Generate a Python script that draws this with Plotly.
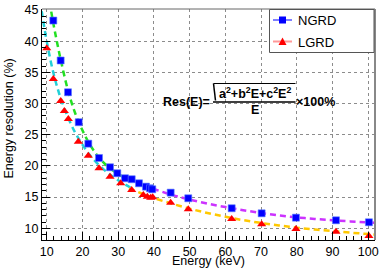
import plotly.graph_objects as go

# ---------------- data ----------------
NGRD_E = [11.85, 13.9, 15.96, 18.96, 21.64, 24.64, 27.72, 29.76, 31.91, 33.79, 35.83,
          37.79, 38.91, 39.55, 44.7, 49.63, 61.78, 70.17, 79.77, 90.97, 100.2]
NGRD_RES = [43.3, 36.9, 31.8, 27.0, 23.56, 21.27, 19.78, 18.82, 18.02, 17.86, 17.21,
            16.67, 16.41, 16.25, 15.71, 14.81, 13.21, 12.4, 11.7, 11.28, 10.96]

LGRD_E = [10.0, 11.85, 13.92, 14.93, 16.05, 18.84, 21.64, 24.64, 27.72, 30.71, 33.79,
          37.04, 38.16, 39.11, 39.67, 44.7, 49.63, 61.78, 70.17, 79.77, 90.97, 100.2]
LGRD_RES = [38.86, 33.94, 30.41, 28.81, 27.52, 23.88, 21.64, 19.62, 18.27, 17.21, 16.14,
            15.34, 15.07, 14.91, 14.97, 14.1, 13.05, 11.49, 10.64, 9.89, 9.46, 8.77]

# fitted curves
FIT_NGRD_LOW_E = [10.8, 11.0, 12, 13, 14, 16, 18, 20, 22, 24, 26, 28, 30, 32]
FIT_NGRD_LOW_RES = [46.3, 45.6, 42.4, 39.5, 36.8, 32.0, 28.4, 25.7, 23.5, 21.8, 20.5, 19.5, 18.7, 18.0]

FIT_LGRD_LOW_E = [8.6, 9.5, 10, 11, 12, 13, 14, 16, 18, 20, 22, 24, 26, 28, 30, 32, 33.5]
FIT_LGRD_LOW_RES = [44.8, 41.6, 40.0, 37.1, 34.6, 32.5, 30.7, 27.7, 25.3, 23.4, 21.8, 20.5,
                    19.4, 18.5, 17.7, 17.0, 16.5]

FIT_NGRD_HIGH_E = [32, 35, 38, 42, 46, 50, 55, 60, 65, 70, 75, 80, 85, 90, 95, 101.9]
FIT_NGRD_HIGH_RES = [18.2, 17.4, 16.7, 15.9, 15.2, 14.6, 13.95, 13.4, 12.9, 12.45, 12.05,
                     11.75, 11.5, 11.3, 11.1, 10.9]

FIT_LGRD_HIGH_E = [33, 36, 40, 45, 50, 55, 60, 65, 70, 75, 80, 85, 90, 95, 101.9]
FIT_LGRD_HIGH_RES = [16.4, 15.7, 14.85, 13.95, 13.15, 12.45, 11.85, 11.3, 10.85, 10.45,
                     10.1, 9.8, 9.55, 9.3, 9.0]

X_TICKS = [10, 20, 30, 40, 50, 60, 70, 80, 90, 100]
Y_TICKS = [10, 15, 20, 25, 30, 35, 40, 45]
SERIES_NAMES = ["NGRD", "LGRD"]

# ---------------- layout helpers ----------------
W, H = 382, 270
L, R, T, B = 42, 375, 9, 240
FONT = "Liberation Sans"


def px(x):
    return (x - L) / (R - L)


def py(y):
    return (B - y) / (B - T)


fig = go.Figure()

dash = "6px,4px"
fig.add_trace(go.Scatter(x=FIT_NGRD_LOW_E, y=FIT_NGRD_LOW_RES, mode="lines",
                         line=dict(color="#22e022", width=2.5, dash=dash, shape="spline"),
                         showlegend=False, hoverinfo="skip"))
fig.add_trace(go.Scatter(x=FIT_LGRD_LOW_E, y=FIT_LGRD_LOW_RES, mode="lines",
                         line=dict(color="#22d0d8", width=2.5, dash=dash, shape="spline"),
                         showlegend=False, hoverinfo="skip"))
fig.add_trace(go.Scatter(x=FIT_NGRD_HIGH_E, y=FIT_NGRD_HIGH_RES, mode="lines",
                         line=dict(color="#cc33ff", width=2.5, dash=dash, shape="spline"),
                         showlegend=False, hoverinfo="skip"))
fig.add_trace(go.Scatter(x=FIT_LGRD_HIGH_E, y=FIT_LGRD_HIGH_RES, mode="lines",
                         line=dict(color="#ffc800", width=2.5, dash=dash, shape="spline"),
                         showlegend=False, hoverinfo="skip"))

fig.add_trace(go.Scatter(x=NGRD_E, y=NGRD_RES, mode="markers", name=SERIES_NAMES[0],
                         marker=dict(symbol="square", color="#0000ff", size=7,
                                     line=dict(width=0.6, color="#5a7dff")),
                         showlegend=False))
fig.add_trace(go.Scatter(x=LGRD_E, y=LGRD_RES, mode="markers", name=SERIES_NAMES[1],
                         marker=dict(symbol="triangle-up", color="#ff0000", size=8,
                                     line=dict(width=0)),
                         showlegend=False))

shapes = []
annotations = []

# frame top / right (gray)
shapes.append(dict(type="line", xref="paper", yref="paper", x0=0, x1=1, y0=1, y1=1,
                   line=dict(color="#666666", width=1)))
shapes.append(dict(type="line", xref="paper", yref="paper", x0=1, x1=1, y0=0, y1=1,
                   line=dict(color="#888888", width=2)))

# legend box
shapes.append(dict(type="rect", xref="paper", yref="paper",
                   x0=px(269.5), x1=px(374), y0=py(52.5), y1=py(9.5),
                   line=dict(color="#555555", width=1), fillcolor="white"))
# NGRD legend entry
shapes.append(dict(type="line", xref="paper", yref="paper", x0=px(273), x1=px(292),
                   y0=py(20), y1=py(20), line=dict(color="#0000ff", width=1)))
shapes.append(dict(type="rect", xref="paper", yref="paper", x0=px(279), x1=px(286),
                   y0=py(23.5), y1=py(16.5), line=dict(width=0), fillcolor="#0000ff"))
# LGRD legend entry
shapes.append(dict(type="line", xref="paper", yref="paper", x0=px(273), x1=px(292),
                   y0=py(41.5), y1=py(41.5), line=dict(color="#ff9999", width=2)))
shapes.append(dict(type="path", xref="paper", yref="paper",
                   path="M {a} {b} L {c} {b} L {d} {e} Z".format(
                       a=px(278.5), b=py(45), c=px(286.5), d=px(282.5), e=py(37.5)),
                   line=dict(width=0), fillcolor="#ff0000"))
annotations.append(dict(xref="paper", yref="paper", x=px(296), y=py(20.5),
                        xanchor="left", yanchor="middle", showarrow=False,
                        text=SERIES_NAMES[0], font=dict(family=FONT, size=13, color="black")))
annotations.append(dict(xref="paper", yref="paper", x=px(296), y=py(42),
                        xanchor="left", yanchor="middle", showarrow=False,
                        text=SERIES_NAMES[1], font=dict(family=FONT, size=13, color="black")))

# formula
ff = dict(family=FONT, size=12.5, color="black")
annotations.append(dict(xref="paper", yref="paper", x=px(212.5), y=py(102),
                        xanchor="right", yanchor="middle", showarrow=False,
                        text="<b>Res(E)=</b>", font=ff))
annotations.append(dict(xref="paper", yref="paper", x=px(217), y=py(92.5),
                        xanchor="left", yanchor="middle", showarrow=False,
                        text="<b>a<sup>2</sup>+b<sup>2</sup>E+c<sup>2</sup>E<sup>2</sup></b>",
                        font=ff))
annotations.append(dict(xref="paper", yref="paper", x=px(254.5), y=py(110),
                        xanchor="center", yanchor="middle", showarrow=False,
                        text="<b>E</b>", font=ff))
annotations.append(dict(xref="paper", yref="paper", x=px(294), y=py(102),
                        xanchor="left", yanchor="middle", showarrow=False,
                        text="<b>×100%</b>", font=ff))
shapes.append(dict(type="line", xref="paper", yref="paper", x0=px(213), x1=px(295.5),
                   y0=py(102), y1=py(102), line=dict(color="black", width=1.5)))
shapes.append(dict(type="line", xref="paper", yref="paper", x0=px(213.5), x1=px(215.5),
                   y0=py(83.5), y1=py(100.5), line=dict(color="black", width=1.5)))
shapes.append(dict(type="line", xref="paper", yref="paper", x0=px(213.5), x1=px(295.5),
                   y0=py(83.5), y1=py(83.5), line=dict(color="black", width=1)))

# axis titles
annotations.append(dict(xref="paper", yref="paper", x=px(208), y=py(261),
                        xanchor="center", yanchor="middle", showarrow=False,
                        text="Energy (keV)", font=dict(family=FONT, size=12.5, color="black")))
annotations.append(dict(xref="paper", yref="paper", x=px(8.5), y=py(119),
                        xanchor="center", yanchor="middle", showarrow=False, textangle=-90,
                        text="Energy resolution (%)",
                        font=dict(family=FONT, size=12.5, color="black")))

axis_common = dict(showline=True, linecolor="black", linewidth=1, mirror=False,
                   ticks="inside", tickcolor="black", ticklen=8, tickwidth=1,
                   showgrid=True, gridcolor="#8c8c8c", griddash="dot", gridwidth=1,
                   zeroline=False, automargin=False,
                   tickfont=dict(family=FONT, size=12.5, color="black"))

fig.update_layout(
    width=W, height=H,
    margin=dict(l=L, r=W - R, t=T, b=H - B, pad=0, autoexpand=False),
    paper_bgcolor="white", plot_bgcolor="white",
    showlegend=False,
    xaxis=dict(range=[8.68, 101.9], tickvals=X_TICKS, ticktext=[str(v) for v in X_TICKS],
               minor=dict(dtick=2, tick0=0, ticks="inside", ticklen=4, tickcolor="black",
                          showgrid=False),
               **axis_common),
    yaxis=dict(range=[8.12, 45.15], tickvals=Y_TICKS, ticktext=[str(v) for v in Y_TICKS],
               minor=dict(dtick=1, tick0=0, ticks="inside", ticklen=4, tickcolor="black",
                          showgrid=False),
               **axis_common),
    shapes=shapes,
    annotations=annotations,
)

fig.write_html("out.html", config={"displayModeBar": False},
               post_script="document.body.style.margin='0';document.body.style.padding='0';")
